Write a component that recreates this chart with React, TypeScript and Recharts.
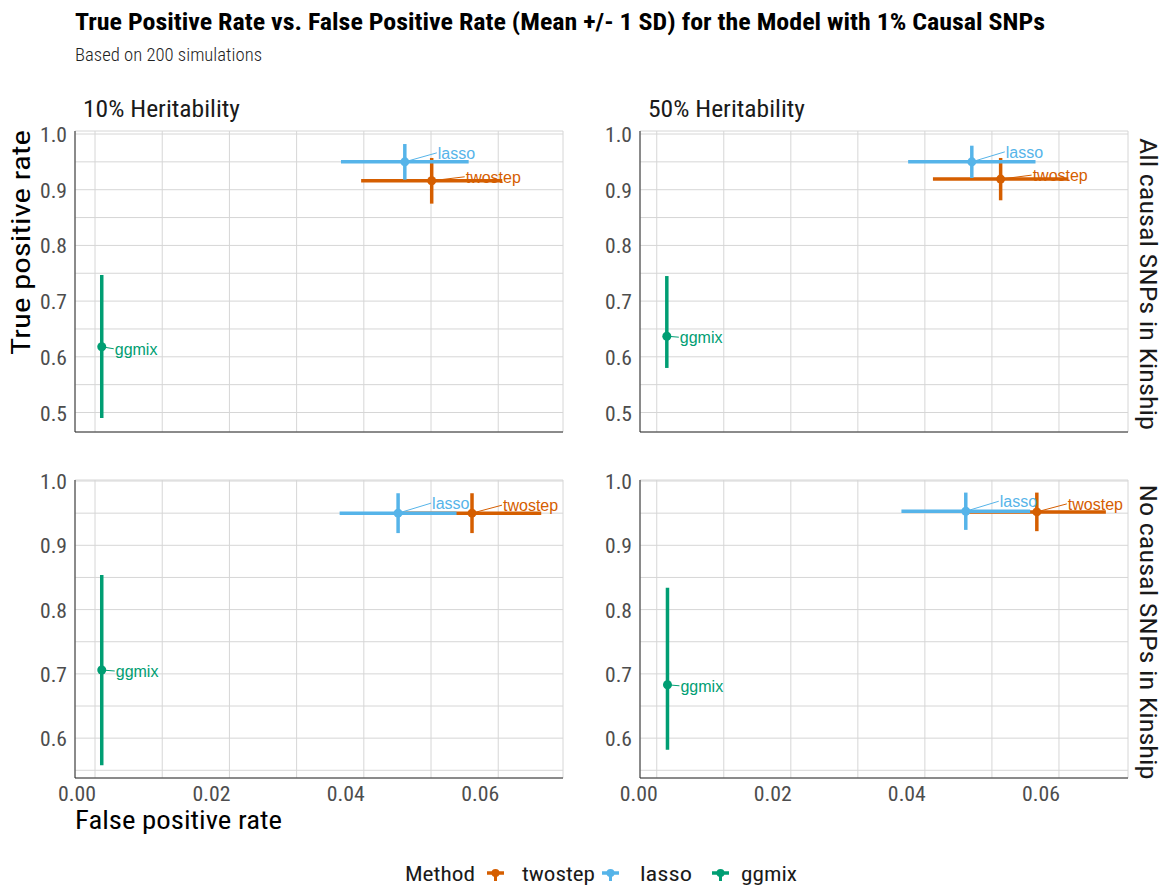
import React from "react";
import { ScatterChart, Scatter, XAxis, YAxis, CartesianGrid, ErrorBar } from "recharts";

const METHODS = ["twostep", "lasso", "ggmix"];
const COLORS = ["#D55E00", "#56B4E9", "#009E73"];
const HERITABILITY = ["10% Heritability", "50% Heritability"];
const KINSHIP = ["All causal SNPs in Kinship", "No causal SNPs in Kinship"];

// panel order: [10%/All, 50%/All, 10%/No, 50%/No]; inside each: [twostep, lasso, ggmix]
const FPR_MEAN = [
  [0.0501, 0.0461, 0.001],
  [0.0513, 0.047, 0.0015],
  [0.0561, 0.0451, 0.001],
  [0.0567, 0.0461, 0.0016],
];
const FPR_SD = [
  [0.0105, 0.0095, 0.0003],
  [0.0101, 0.0095, 0.0003],
  [0.0103, 0.0087, 0.0003],
  [0.0103, 0.0096, 0.0003],
];
const TPR_MEAN = [
  [0.916, 0.95, 0.618],
  [0.919, 0.95, 0.637],
  [0.95, 0.95, 0.706],
  [0.952, 0.953, 0.683],
];
// [below, above] spread
const TPR_LOW = [
  [0.041, 0.032, 0.128],
  [0.038, 0.029, 0.057],
  [0.031, 0.031, 0.148],
  [0.03, 0.029, 0.101],
];
const TPR_HIGH = [
  [0.041, 0.032, 0.129],
  [0.038, 0.029, 0.108],
  [0.031, 0.031, 0.148],
  [0.03, 0.029, 0.151],
];

const X_TICKS = [0, 0.01, 0.02, 0.03, 0.04, 0.05, 0.06];
const Y_TICKS_TOP = [0.5, 0.55, 0.6, 0.65, 0.7, 0.75, 0.8, 0.85, 0.9, 0.95, 1.0];
const Y_TICKS_BOTTOM = [0.55, 0.6, 0.65, 0.7, 0.75, 0.8, 0.85, 0.9, 0.95, 1.0];

const TITLE = "True Positive Rate vs. False Positive Rate (Mean +/- 1 SD) for the Model with 1% Causal SNPs";
const SUBTITLE = "Based on 200 simulations";
const X_TITLE = "False positive rate";
const Y_TITLE = "True positive rate";
const LEGEND_TITLE = "Method";

// layout
const FONT = "'Roboto Condensed', 'Liberation Sans Narrow', 'DejaVu Sans Condensed', Roboto, sans-serif";
const LABEL_FONT = "'Liberation Sans', Arial, Helvetica, sans-serif";
const X_DOMAINS = [
  [-0.00298, 0.06964],
  [-0.0025, 0.0703],
];
const Y_DOMAINS = [
  [0.465, 1.0054],
  [0.538, 1.0016],
];
const LABEL_OFFSETS = [
  [[34, -4], [33, -9], [13, 2]],
  [[32, -4], [34, -10], [13, 1]],
  [[31, -8], [34, -10], [14, 1]],
  [[31, -8], [34, -10], [13, 1]],
];
const PANELS = [
  { left: 0, top: 121, col: 0, row: 0 },
  { left: 565, top: 121, col: 1, row: 0 },
  { left: 0, top: 470, col: 0, row: 1 },
  { left: 565, top: 470, col: 1, row: 1 },
];

const makeShape = (color: string, off: number[]) => (props: any) => {
  const { cx, cy, payload } = props;
  if (cx == null || cy == null) return <g />;
  return (
    <g>
      <line x1={cx} y1={cy} x2={cx + off[0] - 1} y2={cy + off[1]} stroke={color} strokeWidth={1} />
      <circle cx={cx} cy={cy} r={4.5} fill={color} />
      <text
        x={cx + off[0]}
        y={cy + off[1]}
        dy="0.36em"
        fill={color}
        fontSize={16}
        fontFamily={LABEL_FONT}
      >
        {payload.method}
      </text>
    </g>
  );
};

const XTick = (props: any) => {
  const { x, y, payload, show } = props;
  const v = payload.value;
  const k = Math.round(v * 100);
  if (!show || k % 2 !== 0) return <g />;
  return (
    <text
      x={x + 1}
      y={y + 23}
      textAnchor="end"
      fontSize={21}
      fill="#4d4d4d"
      fontFamily={FONT}
      textLength={38}
      lengthAdjust="spacingAndGlyphs"
    >
      {v.toFixed(2)}
    </text>
  );
};

const YTick = (props: any) => {
  const { x, y, payload } = props;
  const v = payload.value;
  const k = Math.round(v * 100);
  if (k % 10 !== 0) return <g />;
  return (
    <text
      x={x - 8}
      y={y + 8}
      textAnchor="end"
      fontSize={21}
      fill="#4d4d4d"
      fontFamily={FONT}
      textLength={27}
      lengthAdjust="spacingAndGlyphs"
    >
      {v.toFixed(1)}
    </text>
  );
};

function Panel({ index }: { index: number }) {
  const p = PANELS[index];
  const bottom = p.row === 1;
  const series = METHODS.map((m, i) => [
    {
      method: m,
      fpr: FPR_MEAN[index][i],
      fprErr: FPR_SD[index][i],
      tpr: TPR_MEAN[index][i],
      tprErr: [TPR_LOW[index][i], TPR_HIGH[index][i]],
    },
  ]);
  const height = bottom ? 348 : 312;
  return (
    <div style={{ position: "absolute", left: p.left, top: p.top }}>
      <ScatterChart width={565} height={height} margin={{ top: 10, right: 2, bottom: 0, left: 0 }}>
        <CartesianGrid stroke="#d6d6d6" strokeWidth={1} />
        <XAxis
          type="number"
          dataKey="fpr"
          domain={X_DOMAINS[p.col]}
          allowDataOverflow
          ticks={X_TICKS}
          interval={0}
          tickSize={0}
          tickMargin={0}
          tickLine={false}
          axisLine={{ stroke: "#2b2b2b", strokeWidth: 1 }}
          tick={<XTick show={bottom} />}
          height={bottom ? 40 : 1}
        />
        <YAxis
          type="number"
          dataKey="tpr"
          domain={Y_DOMAINS[p.row]}
          allowDataOverflow
          ticks={bottom ? Y_TICKS_BOTTOM : Y_TICKS_TOP}
          interval={0}
          tickSize={0}
          tickMargin={0}
          tickLine={false}
          axisLine={{ stroke: "#2b2b2b", strokeWidth: 1 }}
          tick={<YTick />}
          width={75}
        />
        {METHODS.map((m, i) => (
          <Scatter
            key={m}
            name={m}
            data={series[i]}
            fill={COLORS[i]}
            isAnimationActive={false}
            shape={makeShape(COLORS[i], LABEL_OFFSETS[index][i])}
          >
            <ErrorBar dataKey="tprErr" direction="y" width={0} stroke={COLORS[i]} strokeWidth={3.5} />
            <ErrorBar dataKey="fprErr" direction="x" width={0} stroke={COLORS[i]} strokeWidth={3.5} />
          </Scatter>
        ))}
      </ScatterChart>
    </div>
  );
}

function LegendIcon({ x, color }: { x: number; color: string }) {
  return (
    <g>
      <line x1={x} y1={873} x2={x + 17} y2={873} stroke={color} strokeWidth={3.5} />
      <line x1={x + 8.5} y1={873} x2={x + 8.5} y2={881} stroke={color} strokeWidth={3} />
      <circle cx={x + 8.5} cy={873} r={4} fill={color} />
    </g>
  );
}

export default function App() {
  const legendIconX = [487, 602, 712];
  const legendTextX = [522, 640, 741];
  const legendTextW = [73, 52, 56];
  return (
    <div style={{ position: "absolute", left: 0, top: 0, width: 1167, height: 886, background: "#fff" }}>
      {[0, 1, 2, 3].map((i) => (
        <Panel key={i} index={i} />
      ))}
      <svg
        width={1167}
        height={886}
        style={{ position: "absolute", left: 0, top: 0, pointerEvents: "none" }}
        fontFamily={FONT}
      >
        <text x={75} y={30} fontSize={24} fontWeight="bold" fill="#000" textLength={970} lengthAdjust="spacingAndGlyphs">
          {TITLE}
        </text>
        <text x={75} y={61} fontSize={18} fontWeight={300} fill="#222" textLength={187} lengthAdjust="spacingAndGlyphs">
          {SUBTITLE}
        </text>
        <text x={83} y={117} fontSize={24} fill="#1a1a1a" textLength={157} lengthAdjust="spacingAndGlyphs">
          {HERITABILITY[0]}
        </text>
        <text x={648} y={117} fontSize={24} fill="#1a1a1a" textLength={157} lengthAdjust="spacingAndGlyphs">
          {HERITABILITY[1]}
        </text>
        <g transform="translate(1140,284) rotate(90)">
          <text x={0} y={0} textAnchor="middle" fontSize={24} fill="#1a1a1a" textLength={292} lengthAdjust="spacingAndGlyphs">
            {KINSHIP[0]}
          </text>
        </g>
        <g transform="translate(1140,632) rotate(90)">
          <text x={0} y={0} textAnchor="middle" fontSize={24} fill="#1a1a1a" textLength={295} lengthAdjust="spacingAndGlyphs">
            {KINSHIP[1]}
          </text>
        </g>
        <g transform="translate(30,130) rotate(-90)">
          <text x={0} y={0} textAnchor="end" fontSize={26} fill="#000" textLength={225} lengthAdjust="spacingAndGlyphs">
            {Y_TITLE}
          </text>
        </g>
        <text x={75} y={829} fontSize={26} fill="#000" textLength={207} lengthAdjust="spacingAndGlyphs">
          {X_TITLE}
        </text>
        <text x={405} y={881} fontSize={21} fill="#1a1a1a" textLength={70} lengthAdjust="spacingAndGlyphs">
          {LEGEND_TITLE}
        </text>
        {METHODS.map((m, i) => (
          <g key={m}>
            <LegendIcon x={legendIconX[i]} color={COLORS[i]} />
            <text
              x={legendTextX[i]}
              y={881}
              fontSize={21}
              fill="#1a1a1a"
              textLength={legendTextW[i]}
              lengthAdjust="spacingAndGlyphs"
            >
              {m}
            </text>
          </g>
        ))}
      </svg>
    </div>
  );
}
